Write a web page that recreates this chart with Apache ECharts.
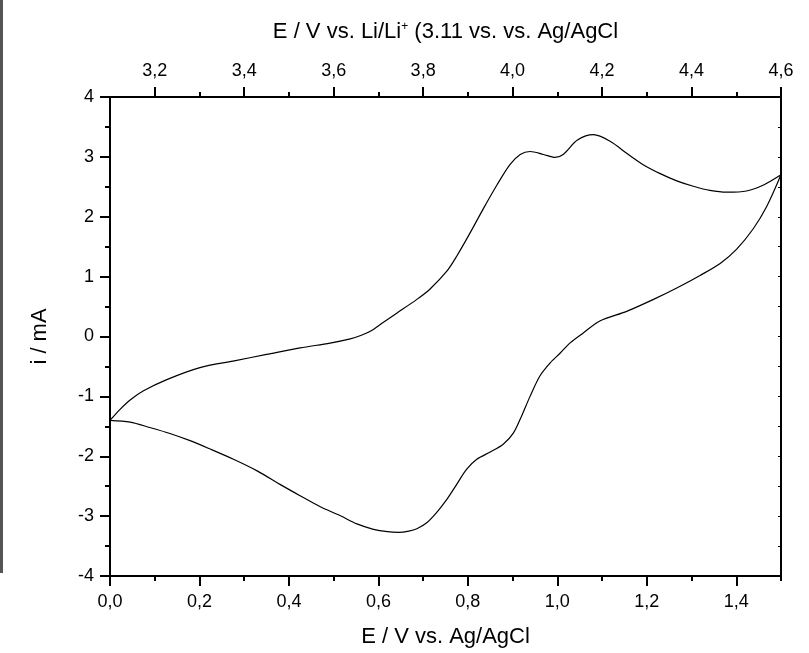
<!DOCTYPE html>
<html>
<head>
<meta charset="utf-8">
<script src="https://cdn.jsdelivr.net/npm/echarts@6/dist/echarts.min.js"></script>
<style>
html,body{margin:0;padding:0;background:#fff;}
#chart{width:809px;height:653px;}
</style>
</head>
<body>
<div id="chart"></div>
<script>
// Cyclic voltammogram: forward (anodic) sweep then reverse (cathodic) sweep
var potential = [
  0.000, 0.022, 0.045, 0.074, 0.127, 0.201, 0.275, 0.350, 0.425, 0.492,
  0.537, 0.562, 0.585, 0.608, 0.641, 0.686, 0.715, 0.753, 0.775, 0.805, 0.835,
  0.865, 0.894, 0.917, 0.939, 0.969, 0.995, 1.013, 1.045, 1.081, 1.118,
  1.155, 1.192, 1.230, 1.267, 1.304, 1.341, 1.379, 1.423, 1.461, 1.500,
  1.468, 1.438, 1.401, 1.364, 1.319, 1.267, 1.215, 1.155, 1.095, 1.058,
  1.028, 1.006, 0.984, 0.961, 0.939, 0.920, 0.902, 0.879, 0.850, 0.820,
  0.797, 0.775, 0.753, 0.730, 0.708, 0.686, 0.668, 0.645, 0.620, 0.589, 0.552,
  0.514, 0.469, 0.425, 0.380, 0.328, 0.276, 0.224, 0.179, 0.134, 0.089,
  0.045, 0.000
];
var current = [
  -1.40, -1.22, -1.06, -0.91, -0.72, -0.52, -0.41, -0.30, -0.19, -0.11,
  -0.04, 0.02, 0.10, 0.22, 0.39, 0.62, 0.79, 1.09, 1.34, 1.73, 2.14,
  2.53, 2.87, 3.04, 3.09, 3.04, 2.99, 3.04, 3.28, 3.37, 3.26,
  3.06, 2.87, 2.72, 2.60, 2.51, 2.44, 2.41, 2.43, 2.53, 2.70,
  2.17, 1.80, 1.46, 1.22, 1.02, 0.81, 0.62, 0.42, 0.26, 0.06,
  -0.11, -0.28, -0.44, -0.66, -1.00, -1.33, -1.61, -1.80, -1.93, -2.05,
  -2.22, -2.47, -2.72, -2.94, -3.11, -3.21, -3.25, -3.27, -3.26, -3.22, -3.13,
  -2.99, -2.84, -2.66, -2.47, -2.24, -2.05, -1.88, -1.74, -1.62, -1.52,
  -1.43, -1.40
];
// tick values
var bottomMajor = [0.0, 0.2, 0.4, 0.6, 0.8, 1.0, 1.2, 1.4];
var bottomMinor = [0.1, 0.3, 0.5, 0.7, 0.9, 1.1, 1.3, 1.5];
var topMajor = [3.2, 3.4, 3.6, 3.8, 4.0, 4.2, 4.4, 4.6];
var topMinor = [3.3, 3.5, 3.7, 3.9, 4.1, 4.3, 4.5];

var FONT = '"Liberation Sans", Arial, sans-serif';
var points = potential.map(function (e, k) { return [e, current[k]]; });
function comma(v) { return Number(v).toFixed(1).replace('.', ','); }
var axisLineStyle = { color: '#000', width: 2 };

var chart = echarts.init(document.getElementById('chart'), null, { renderer: 'canvas' });
chart.setOption({
  animation: false,
  backgroundColor: '#fff',
  graphic: [{
    type: 'rect', left: 0, top: 0, shape: { width: 3, height: 573 },
    style: { fill: '#555' }, silent: true
  }],
  grid: { left: 110, right: 28, top: 97, bottom: 76, containLabel: false },
  xAxis: [
    {
      type: 'value', position: 'bottom', min: 0, max: 1.5,
      name: 'E / V vs. Ag/AgCl', nameLocation: 'middle', nameGap: 50,
      nameTextStyle: { fontFamily: FONT, fontSize: 22, color: '#000' },
      axisLine: { show: true, onZero: false, lineStyle: axisLineStyle },
      axisTick: { show: true, inside: false, length: 10, customValues: bottomMajor, lineStyle: { color: '#000', width: 2 } },
      axisLabel: { show: true, margin: 17, customValues: bottomMajor, formatter: comma, fontFamily: FONT, fontSize: 18, color: '#000' },
      splitLine: { show: false }
    },
    {
      type: 'value', position: 'bottom', min: 0, max: 1.5,
      axisLine: { show: false, onZero: false },
      axisTick: { show: true, inside: false, length: 5, customValues: bottomMinor, lineStyle: { color: '#000', width: 2 } },
      axisLabel: { show: false },
      splitLine: { show: false }
    },
    {
      type: 'value', position: 'top', min: 3.1, max: 4.6,
      name: 'E / V vs. Li/Li{sup|+} (3.11 vs. vs. Ag/AgCl', nameLocation: 'middle', nameGap: 54,
      nameTextStyle: {
        fontFamily: FONT, fontSize: 22, color: '#000',
        rich: { sup: { fontFamily: FONT, fontSize: 12, color: '#000', verticalAlign: 'top', padding: [0, 0, 10, 0] } }
      },
      axisLine: { show: true, onZero: false, lineStyle: axisLineStyle },
      axisTick: { show: true, inside: false, length: 10, customValues: topMajor, lineStyle: { color: '#000', width: 2 } },
      axisLabel: { show: true, margin: 17, customValues: topMajor, formatter: comma, fontFamily: FONT, fontSize: 18, color: '#000' },
      splitLine: { show: false }
    },
    {
      type: 'value', position: 'top', min: 3.1, max: 4.6,
      axisLine: { show: false, onZero: false },
      axisTick: { show: true, inside: false, length: 5, customValues: topMinor, lineStyle: { color: '#000', width: 2 } },
      axisLabel: { show: false },
      splitLine: { show: false }
    }
  ],
  yAxis: [
    {
      type: 'value', position: 'left', min: -4, max: 4, interval: 1,
      name: 'i / mA', nameLocation: 'middle', nameGap: 59, nameRotate: 90,
      nameTextStyle: { fontFamily: FONT, fontSize: 22, color: '#000' },
      axisLine: { show: true, onZero: false, lineStyle: axisLineStyle },
      axisTick: { show: true, inside: false, length: 10, lineStyle: { color: '#000', width: 2 } },
      minorTick: { show: true, splitNumber: 2, length: 5, lineStyle: { color: '#000', width: 2 } },
      axisLabel: { show: true, margin: 16, fontFamily: FONT, fontSize: 18, color: '#000' },
      splitLine: { show: false }, minorSplitLine: { show: false }
    },
    {
      type: 'value', position: 'right', min: -4, max: 4, interval: 1,
      axisLine: { show: true, onZero: false, lineStyle: axisLineStyle },
      axisTick: { show: true, inside: true, length: 3, lineStyle: { color: '#000', width: 1 } },
      minorTick: { show: true, splitNumber: 2, length: 3, lineStyle: { color: '#000', width: 1 } },
      axisLabel: { show: false },
      splitLine: { show: false }, minorSplitLine: { show: false }
    }
  ],
  series: [{
    type: 'line', xAxisIndex: 0, yAxisIndex: 0,
    data: points, showSymbol: false, symbol: 'none', smooth: 0.3,
    lineStyle: { color: '#000', width: 1.2 },
    silent: true
  }]
});
</script>
</body>
</html>
